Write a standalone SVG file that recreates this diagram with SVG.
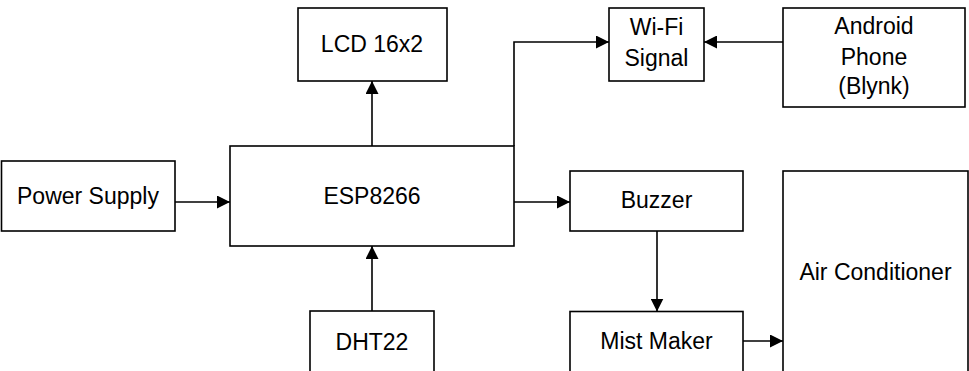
<svg xmlns="http://www.w3.org/2000/svg" width="969" height="371" viewBox="0 0 969 371">
<style>
.box{fill:#fff;stroke:#000;stroke-width:1.6}
.lbl{font-family:"Liberation Sans",Arial,sans-serif;font-size:23px;fill:#000;text-anchor:middle}
.con{fill:none;stroke:#000;stroke-width:1.6}
</style>
<defs>
<marker id="arr" viewBox="0 0 10 10" refX="10" refY="5" markerWidth="13" markerHeight="13" markerUnits="userSpaceOnUse" orient="auto">
<path d="M0,0 L10,5 L0,10 Z" fill="#000"/>
</marker>
</defs>
<g id="connectors">
<path class="con" d="M175,202 H230" marker-end="url(#arr)"/>
<path class="con" d="M372,146 V81" marker-end="url(#arr)"/>
<path class="con" d="M372,311 V246" marker-end="url(#arr)"/>
<path class="con" d="M514,146 V42 H609" marker-end="url(#arr)"/>
<path class="con" d="M783,42 H704" marker-end="url(#arr)"/>
<path class="con" d="M514,202 H570" marker-end="url(#arr)"/>
<path class="con" d="M657,231 V311.5" marker-end="url(#arr)"/>
<path class="con" d="M743,341 H783" marker-end="url(#arr)"/>
</g>
<g id="lcd"><rect class="box" x="298" y="8" width="149" height="73"/><text class="lbl" x="372" y="52">LCD 16x2</text></g>
<g id="power"><rect class="box" x="1.5" y="161" width="173.5" height="70"/><text class="lbl" x="88" y="204">Power Supply</text></g>
<g id="esp"><rect class="box" x="230" y="146" width="284" height="100"/><text class="lbl" x="372" y="204">ESP8266</text></g>
<g id="dht"><rect class="box" x="310" y="311" width="124" height="70"/><text class="lbl" x="372" y="350">DHT22</text></g>
<g id="wifi"><rect class="box" x="609" y="8" width="95" height="73"/><text class="lbl" x="656.5" y="35">Wi-Fi</text><text class="lbl" x="656.5" y="66">Signal</text></g>
<g id="android"><rect class="box" x="783" y="8" width="182" height="99"/><text class="lbl" x="874" y="34">Android</text><text class="lbl" x="874" y="65">Phone</text><text class="lbl" x="874" y="94">(Blynk)</text></g>
<g id="buzzer"><rect class="box" x="570" y="171" width="173" height="60"/><text class="lbl" x="656.5" y="208">Buzzer</text></g>
<g id="mist"><rect class="box" x="570" y="311.5" width="173" height="70"/><text class="lbl" x="656.5" y="349">Mist Maker</text></g>
<g id="ac"><rect class="box" x="783" y="171" width="185" height="210"/><text class="lbl" x="875.5" y="280">Air Conditioner</text></g>
</svg>
